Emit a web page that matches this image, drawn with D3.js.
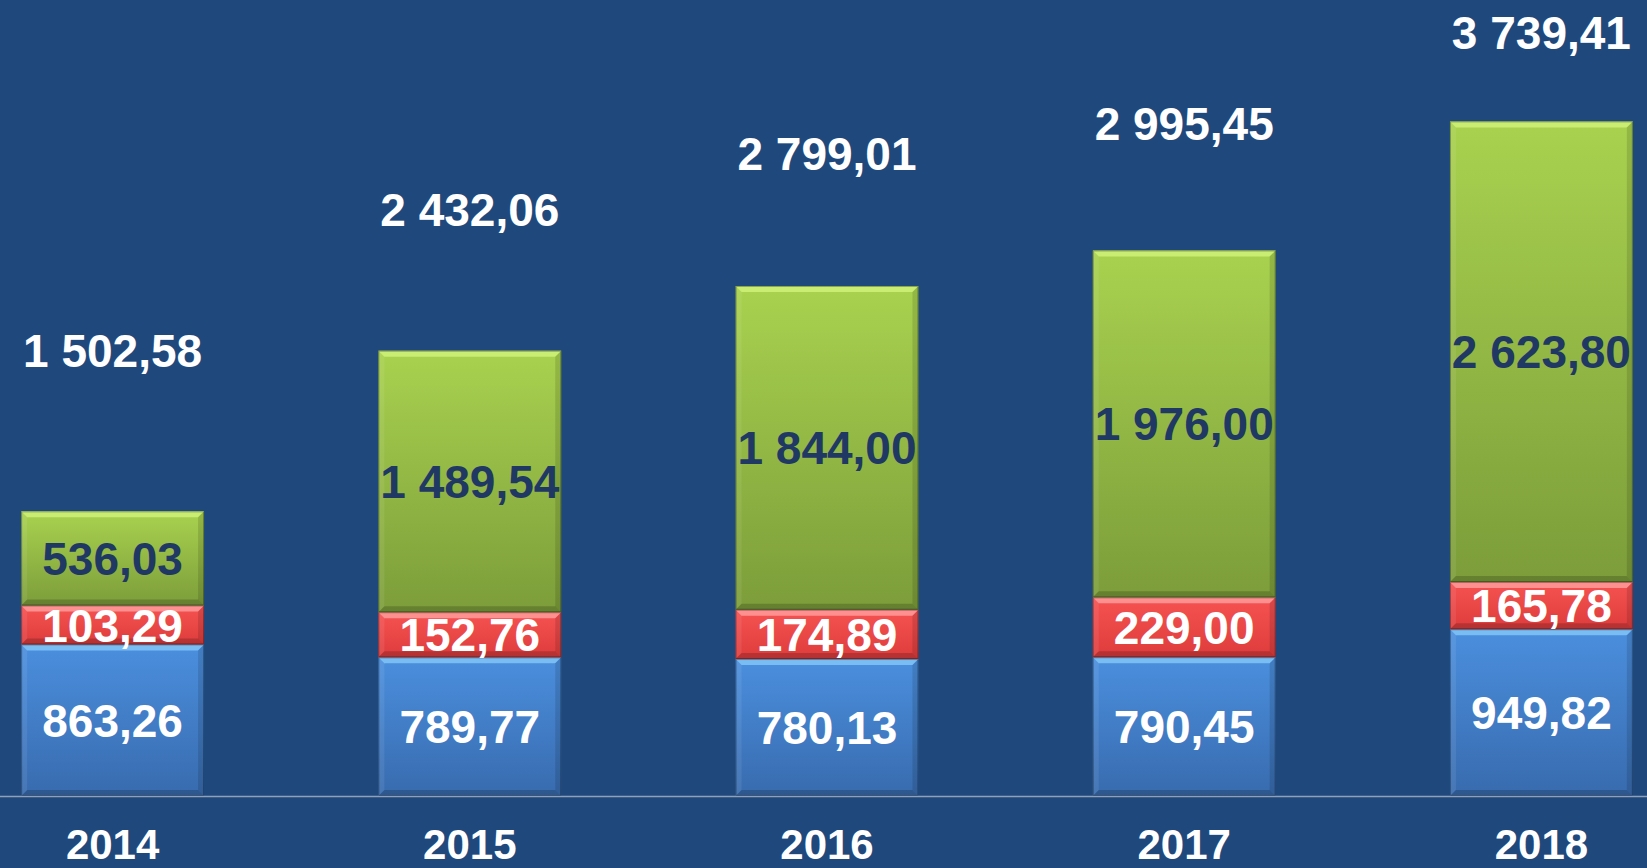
<!DOCTYPE html>
<html>
<head>
<meta charset="utf-8">
<script src="https://cdn.jsdelivr.net/npm/d3@7"></script>
<style>
  html, body { margin: 0; padding: 0; background: #1F497D; overflow: hidden; }
  text { font-family: "Liberation Sans", Arial, Helvetica, sans-serif; font-weight: bold; }
</style>
</head>
<body>
<div id="chart"></div>
<script>
var years = ["2014", "2015", "2016", "2017", "2018"];
var blueValues = [863.26, 789.77, 780.13, 790.45, 949.82];
var redValues = [103.29, 152.76, 174.89, 229.00, 165.78];
// the red segments on the slide are drawn taller than their labels say
var redDrawn = [222, 257, 281, 341, 269];
var greenValues = [536.03, 1489.54, 1844.00, 1976.00, 2623.80];
var totals = [1502.58, 2432.06, 2799.01, 2995.45, 3739.41];

var W = 1647, H = 868, base = 796;

var locale = d3.formatLocale({decimal: ",", thousands: " ", grouping: [3], currency: ["", ""]});
var fmt = locale.format(",.2f");

var rows = years.map(function(y, i) {
    return {year: y, blue: blueValues[i], red: redDrawn[i], green: greenValues[i]};
});
var labelValues = {blue: blueValues, red: redValues, green: greenValues};

var series = [
    {key: "blue", top: "#4B8FDE", bottom: "#386BAE", bevel: "#79BDF3", text: "#FFFFFF"},
    {key: "red", top: "#F65252", bottom: "#DE3C3C", bevel: "#FF9090", text: "#FFFFFF"},
    {key: "green", top: "#A9D24F", bottom: "#7C9D3A", bevel: "#C9EC72", text: "#1F3864"}
];

var stacked = d3.stack().keys(series.map(s => s.key))(rows);

var x = d3.scaleBand().domain(years).range([-66, 1720]).paddingInner(0.488).paddingOuter(0.244);
var y = d3.scaleLinear().domain([0, 4500]).range([base, base - 790]);
// totals sit on their own (hidden) secondary scale
var y2 = d3.scaleLinear().domain([0, 4000]).range([base, base - 608]);

var svg = d3.select("#chart").append("svg")
    .attr("width", W)
    .attr("height", H);

svg.append("rect").attr("width", W).attr("height", H).attr("fill", "#1F497D");

var defs = svg.append("defs");
series.forEach(function(s) {
    var g = defs.append("linearGradient").attr("id", "grad-" + s.key)
        .attr("x1", 0).attr("y1", 0).attr("x2", 0).attr("y2", 1);
    g.append("stop").attr("offset", "0%").attr("stop-color", s.top);
    g.append("stop").attr("offset", "100%").attr("stop-color", s.bottom);
});

var bw = x.bandwidth(), b = 6;

stacked.forEach(function(layer, li) {
    var s = series[li];
    var grp = svg.append("g").attr("class", "layer-" + s.key);
    layer.forEach(function(d, i) {
        var x0 = x(years[i]), x1 = x0 + bw;
        var top = y(d[1]), bot = y(d[0]);
        var cell = grp.append("g");
        cell.append("rect")
            .attr("x", x0).attr("y", top)
            .attr("width", bw).attr("height", bot - top)
            .attr("fill", "url(#grad-" + s.key + ")");
        // bevel edges
        cell.append("polygon")
            .attr("points", [[x0, top], [x1, top], [x1 - b, top + b], [x0 + b, top + b]].join(" "))
            .attr("fill", s.bevel);
        cell.append("polygon")
            .attr("points", [[x0, top], [x0 + b, top + b], [x0 + b, bot - b], [x0, bot]].join(" "))
            .attr("fill", "#ffffff").attr("opacity", 0.08);
        cell.append("polygon")
            .attr("points", [[x1, top], [x1 - b, top + b], [x1 - b, bot - b], [x1, bot]].join(" "))
            .attr("fill", "#000000").attr("opacity", 0.12);
        cell.append("polygon")
            .attr("points", [[x0, bot], [x1, bot], [x1 - b, bot - b], [x0 + b, bot - b]].join(" "))
            .attr("fill", "#000000").attr("opacity", 0.18);
        cell.append("rect")
            .attr("x", x0 + 0.5).attr("y", top + 0.5)
            .attr("width", bw - 1).attr("height", bot - top - 1)
            .attr("fill", "none").attr("stroke", "#000000").attr("stroke-opacity", 0.3);
    });
});

// segment labels
stacked.forEach(function(layer, li) {
    var s = series[li];
    svg.append("g").selectAll("text")
        .data(layer)
        .enter().append("text")
        .attr("x", (d, i) => x(years[i]) + bw / 2)
        .attr("y", d => (y(d[0]) + y(d[1])) / 2)
        .attr("dy", "0.36em")
        .attr("text-anchor", "middle")
        .style("font-size", "46px")
        .attr("fill", s.text)
        .text((d, i) => fmt(labelValues[s.key][i]));
});

// totals
svg.append("g").selectAll("text")
    .data(totals)
    .enter().append("text")
    .attr("x", (d, i) => x(years[i]) + bw / 2)
    .attr("y", d => Math.max(y2(d) - 217, 32))
    .attr("dy", "0.36em")
    .attr("text-anchor", "middle")
    .style("font-size", "46px")
    .attr("fill", "#FFFFFF")
    .text(d => fmt(d));

// year axis
var axis = svg.append("g")
    .attr("transform", "translate(0," + base + ")")
    .call(d3.axisBottom(x).tickSize(0).tickPadding(33));
axis.select(".domain").attr("stroke", "#8FA0B8").attr("stroke-width", 1.5);
axis.selectAll("text")
    .attr("fill", "#FFFFFF")
    .style("font-size", "42px")
    .style("font-family", "'Liberation Sans', Arial, sans-serif")
    .style("font-weight", "bold");
</script>
</body>
</html>
